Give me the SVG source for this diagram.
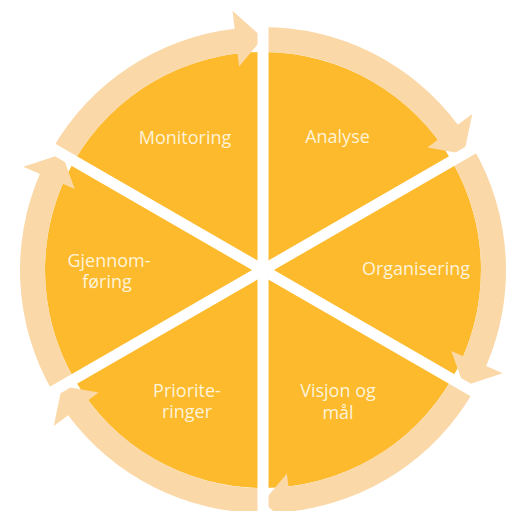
<svg xmlns="http://www.w3.org/2000/svg" width="517" height="511" viewBox="0 0 517 511">
  <style>
    .sector { fill: #FCBA2C; }
    .ring { fill: #FBD8A7; }
    .label { font-family: "Open Sans", "Liberation Sans", sans-serif; font-size: 18px; fill: #FFF3D9; text-anchor: middle; }
    .gap { stroke: #FFFFFF; stroke-width: 11; fill: none; }
  </style>
  <rect width="517" height="511" fill="#FFFFFF"/>

  <g id="node-analyse">
    <path class="sector" d="M263,270 L263,52 A218,218 0 0 1 451.79,161 Z"/>
    <text class="label" x="337.5" y="143">Analyse</text>
  </g>
  <g id="node-organisering">
    <path class="sector" d="M263,270 L451.79,161 A218,218 0 0 1 451.79,379 Z"/>
    <text class="label" x="416" y="275">Organisering</text>
  </g>
  <g id="node-visjon">
    <path class="sector" d="M263,270 L451.79,379 A218,218 0 0 1 263,488 Z"/>
    <text class="label" x="338" y="397">Visjon og<tspan x="338" dy="22">mål</tspan></text>
  </g>
  <g id="node-prioriteringer">
    <path class="sector" d="M263,270 L263,488 A218,218 0 0 1 74.21,379 Z"/>
    <text class="label" x="187" y="397">Priorite-<tspan x="187" dy="21">ringer</tspan></text>
  </g>
  <g id="node-gjennomforing">
    <path class="sector" d="M263,270 L74.21,379 A218,218 0 0 1 74.21,161 Z"/>
    <text class="label" x="109" y="267">Gjennom-<tspan x="107" dy="21">føring</tspan></text>
  </g>
  <g id="node-monitoring">
    <path class="sector" d="M263,270 L74.21,161 A218,218 0 0 1 263,52 Z"/>
    <text class="label" x="185" y="144">Monitoring</text>
  </g>

  <g id="connectors">
    <path class="ring" d="M263,27 A243,243 0 0 1 457.84,124.78 L472.27,114.03 L463.91,154 L427.37,147.49 L437.79,139.72 A218,218 0 0 0 263,52 Z"/>
    <path class="ring" d="M473.44,148.5 A243,243 0 0 1 486.17,366.11 L502.70,373.23 L463.91,386 L451.27,351.08 L463.21,356.22 A218,218 0 0 0 451.79,161 Z"/>
    <path class="ring" d="M473.44,391.5 A243,243 0 0 1 291.36,511.35 L293.46,529.23 L263,502 L286.92,473.61 L288.44,486.52 A218,218 0 0 0 451.79,379 Z"/>
    <path class="ring" d="M263,513 A243,243 0 0 1 68.16,415.22 L53.73,425.97 L62.09,386 L98.63,392.51 L88.21,400.28 A218,218 0 0 0 263,488 Z"/>
    <path class="ring" d="M52.56,391.5 A243,243 0 0 1 39.83,173.89 L23.30,166.77 L62.09,154 L74.73,188.92 L62.79,183.78 A218,218 0 0 0 74.21,379 Z"/>
    <path class="ring" d="M52.56,148.5 A243,243 0 0 1 234.64,28.65 L232.54,10.77 L263,38 L239.08,66.39 L237.56,53.48 A218,218 0 0 0 74.21,161 Z"/>
  </g>

  <g id="gaps">
    <line class="gap" x1="263" y1="-10" x2="263" y2="530"/>
    <line class="gap" x1="505.5" y1="130" x2="20.5" y2="410"/>
    <line class="gap" x1="505.5" y1="410" x2="20.5" y2="130"/>
  </g>
</svg>
